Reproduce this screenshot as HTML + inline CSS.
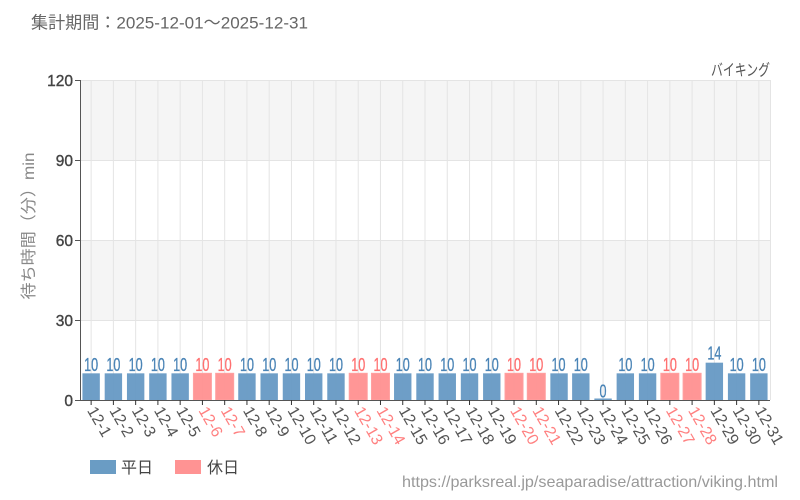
<!DOCTYPE html>
<html><head><meta charset="utf-8"><style>
html,body{margin:0;padding:0;background:#fff;}
svg{display:block;}
text{font-family:"Liberation Sans","Noto Sans CJK JP",sans-serif;}
</style></head><body>
<svg width="800" height="500" viewBox="0 0 800 500" xmlns="http://www.w3.org/2000/svg">
<rect width="800" height="500" fill="#fff"/>
<text x="31" y="28.5" font-size="17" fill="#666" textLength="277" lengthAdjust="spacingAndGlyphs">集計期間：2025-12-01～2025-12-31</text>
<text x="770" y="75.5" font-size="16" fill="#555" text-anchor="end" textLength="59" lengthAdjust="spacingAndGlyphs">バイキング</text>
<!-- bands -->
<rect x="80" y="80" width="690" height="80" fill="#f5f5f5"/>
<rect x="80" y="240" width="690" height="80" fill="#f5f5f5"/>
<!-- horizontal grid -->
<g stroke="#e4e4e4" stroke-width="1">
<line x1="80" y1="80.5" x2="770" y2="80.5"/>
<line x1="80" y1="160.5" x2="770" y2="160.5"/>
<line x1="80" y1="240.5" x2="770" y2="240.5"/>
<line x1="80" y1="320.5" x2="770" y2="320.5"/>
</g>
<!-- vertical grid -->
<g stroke="#e4e4e4" stroke-width="1">
<line x1="91.13" y1="80" x2="91.13" y2="400"/>
<line x1="113.39" y1="80" x2="113.39" y2="400"/>
<line x1="135.65" y1="80" x2="135.65" y2="400"/>
<line x1="157.90" y1="80" x2="157.90" y2="400"/>
<line x1="180.16" y1="80" x2="180.16" y2="400"/>
<line x1="202.42" y1="80" x2="202.42" y2="400"/>
<line x1="224.68" y1="80" x2="224.68" y2="400"/>
<line x1="246.94" y1="80" x2="246.94" y2="400"/>
<line x1="269.19" y1="80" x2="269.19" y2="400"/>
<line x1="291.45" y1="80" x2="291.45" y2="400"/>
<line x1="313.71" y1="80" x2="313.71" y2="400"/>
<line x1="335.97" y1="80" x2="335.97" y2="400"/>
<line x1="358.23" y1="80" x2="358.23" y2="400"/>
<line x1="380.48" y1="80" x2="380.48" y2="400"/>
<line x1="402.74" y1="80" x2="402.74" y2="400"/>
<line x1="425.00" y1="80" x2="425.00" y2="400"/>
<line x1="447.26" y1="80" x2="447.26" y2="400"/>
<line x1="469.52" y1="80" x2="469.52" y2="400"/>
<line x1="491.77" y1="80" x2="491.77" y2="400"/>
<line x1="514.03" y1="80" x2="514.03" y2="400"/>
<line x1="536.29" y1="80" x2="536.29" y2="400"/>
<line x1="558.55" y1="80" x2="558.55" y2="400"/>
<line x1="580.81" y1="80" x2="580.81" y2="400"/>
<line x1="603.06" y1="80" x2="603.06" y2="400"/>
<line x1="625.32" y1="80" x2="625.32" y2="400"/>
<line x1="647.58" y1="80" x2="647.58" y2="400"/>
<line x1="669.84" y1="80" x2="669.84" y2="400"/>
<line x1="692.10" y1="80" x2="692.10" y2="400"/>
<line x1="714.35" y1="80" x2="714.35" y2="400"/>
<line x1="736.61" y1="80" x2="736.61" y2="400"/>
<line x1="758.87" y1="80" x2="758.87" y2="400"/>
<line x1="770.5" y1="80" x2="770.5" y2="400"/>
</g>
<!-- bars -->
<g fill="#6699c4" fill-opacity="0.95">
<rect x="82.43" y="373.33" width="17.4" height="26.67"/>
<rect x="104.69" y="373.33" width="17.4" height="26.67"/>
<rect x="126.95" y="373.33" width="17.4" height="26.67"/>
<rect x="149.20" y="373.33" width="17.4" height="26.67"/>
<rect x="171.46" y="373.33" width="17.4" height="26.67"/>
<rect x="238.24" y="373.33" width="17.4" height="26.67"/>
<rect x="260.49" y="373.33" width="17.4" height="26.67"/>
<rect x="282.75" y="373.33" width="17.4" height="26.67"/>
<rect x="305.01" y="373.33" width="17.4" height="26.67"/>
<rect x="327.27" y="373.33" width="17.4" height="26.67"/>
<rect x="394.04" y="373.33" width="17.4" height="26.67"/>
<rect x="416.30" y="373.33" width="17.4" height="26.67"/>
<rect x="438.56" y="373.33" width="17.4" height="26.67"/>
<rect x="460.82" y="373.33" width="17.4" height="26.67"/>
<rect x="483.07" y="373.33" width="17.4" height="26.67"/>
<rect x="550.35" y="373.33" width="17.4" height="26.67"/>
<rect x="572.11" y="373.33" width="17.4" height="26.67"/>
<rect x="594.36" y="398.5" width="17.4" height="1.5"/>
<rect x="616.62" y="373.33" width="17.4" height="26.67"/>
<rect x="638.88" y="373.33" width="17.4" height="26.67"/>
<rect x="705.65" y="362.67" width="17.4" height="37.33"/>
<rect x="727.91" y="373.33" width="17.4" height="26.67"/>
<rect x="750.17" y="373.33" width="17.4" height="26.67"/>
</g>
<g fill="#ff9090" fill-opacity="0.95" stroke="#ffa0a0" stroke-width="1">
<rect x="193.42" y="373.3" width="18" height="26.7"/>
<rect x="215.68" y="373.3" width="18" height="26.7"/>
<rect x="349.23" y="373.3" width="18" height="26.7"/>
<rect x="371.48" y="373.3" width="18" height="26.7"/>
<rect x="505.03" y="373.3" width="18" height="26.7"/>
<rect x="527.29" y="373.3" width="18" height="26.7"/>
<rect x="660.84" y="373.3" width="18" height="26.7"/>
<rect x="683.10" y="373.3" width="18" height="26.7"/>
</g>
<!-- value labels -->
<g font-size="18.5" fill="#4a84b6" stroke="#4a84b6" stroke-width="0.3" text-anchor="middle">
<text x="91.13" y="371" textLength="14" lengthAdjust="spacingAndGlyphs">10</text>
<text x="113.39" y="371" textLength="14" lengthAdjust="spacingAndGlyphs">10</text>
<text x="135.65" y="371" textLength="14" lengthAdjust="spacingAndGlyphs">10</text>
<text x="157.90" y="371" textLength="14" lengthAdjust="spacingAndGlyphs">10</text>
<text x="180.16" y="371" textLength="14" lengthAdjust="spacingAndGlyphs">10</text>
<text x="246.94" y="371" textLength="14" lengthAdjust="spacingAndGlyphs">10</text>
<text x="269.19" y="371" textLength="14" lengthAdjust="spacingAndGlyphs">10</text>
<text x="291.45" y="371" textLength="14" lengthAdjust="spacingAndGlyphs">10</text>
<text x="313.71" y="371" textLength="14" lengthAdjust="spacingAndGlyphs">10</text>
<text x="335.97" y="371" textLength="14" lengthAdjust="spacingAndGlyphs">10</text>
<text x="402.74" y="371" textLength="14" lengthAdjust="spacingAndGlyphs">10</text>
<text x="425.00" y="371" textLength="14" lengthAdjust="spacingAndGlyphs">10</text>
<text x="447.26" y="371" textLength="14" lengthAdjust="spacingAndGlyphs">10</text>
<text x="469.52" y="371" textLength="14" lengthAdjust="spacingAndGlyphs">10</text>
<text x="491.77" y="371" textLength="14" lengthAdjust="spacingAndGlyphs">10</text>
<text x="558.55" y="371" textLength="14" lengthAdjust="spacingAndGlyphs">10</text>
<text x="580.81" y="371" textLength="14" lengthAdjust="spacingAndGlyphs">10</text>
<text x="603.06" y="397.5" textLength="7" lengthAdjust="spacingAndGlyphs">0</text>
<text x="625.32" y="371" textLength="14" lengthAdjust="spacingAndGlyphs">10</text>
<text x="647.58" y="371" textLength="14" lengthAdjust="spacingAndGlyphs">10</text>
<text x="714.35" y="359.5" textLength="14" lengthAdjust="spacingAndGlyphs">14</text>
<text x="736.61" y="371" textLength="14" lengthAdjust="spacingAndGlyphs">10</text>
<text x="758.87" y="371" textLength="14" lengthAdjust="spacingAndGlyphs">10</text>
</g>
<g font-size="18.5" fill="#ff7070" stroke="#ff7070" stroke-width="0.3" text-anchor="middle">
<text x="202.42" y="371" textLength="14" lengthAdjust="spacingAndGlyphs">10</text>
<text x="224.68" y="371" textLength="14" lengthAdjust="spacingAndGlyphs">10</text>
<text x="358.23" y="371" textLength="14" lengthAdjust="spacingAndGlyphs">10</text>
<text x="380.48" y="371" textLength="14" lengthAdjust="spacingAndGlyphs">10</text>
<text x="514.03" y="371" textLength="14" lengthAdjust="spacingAndGlyphs">10</text>
<text x="536.29" y="371" textLength="14" lengthAdjust="spacingAndGlyphs">10</text>
<text x="669.84" y="371" textLength="14" lengthAdjust="spacingAndGlyphs">10</text>
<text x="692.10" y="371" textLength="14" lengthAdjust="spacingAndGlyphs">10</text>
</g>
<!-- axes -->
<g stroke="#555" stroke-width="1">
<line x1="80.5" y1="80" x2="80.5" y2="400"/>
<line x1="80" y1="400.5" x2="770" y2="400.5"/>
<line x1="75" y1="80.5" x2="80" y2="80.5"/>
<line x1="75" y1="160.5" x2="80" y2="160.5"/>
<line x1="75" y1="240.5" x2="80" y2="240.5"/>
<line x1="75" y1="320.5" x2="80" y2="320.5"/>
<line x1="75" y1="400.5" x2="80" y2="400.5"/>
</g>
<g stroke="#333" stroke-width="1">
<line x1="91.13" y1="400" x2="91.13" y2="405"/>
<line x1="113.39" y1="400" x2="113.39" y2="405"/>
<line x1="135.65" y1="400" x2="135.65" y2="405"/>
<line x1="157.90" y1="400" x2="157.90" y2="405"/>
<line x1="180.16" y1="400" x2="180.16" y2="405"/>
<line x1="202.42" y1="400" x2="202.42" y2="405"/>
<line x1="224.68" y1="400" x2="224.68" y2="405"/>
<line x1="246.94" y1="400" x2="246.94" y2="405"/>
<line x1="269.19" y1="400" x2="269.19" y2="405"/>
<line x1="291.45" y1="400" x2="291.45" y2="405"/>
<line x1="313.71" y1="400" x2="313.71" y2="405"/>
<line x1="335.97" y1="400" x2="335.97" y2="405"/>
<line x1="358.23" y1="400" x2="358.23" y2="405"/>
<line x1="380.48" y1="400" x2="380.48" y2="405"/>
<line x1="402.74" y1="400" x2="402.74" y2="405"/>
<line x1="425.00" y1="400" x2="425.00" y2="405"/>
<line x1="447.26" y1="400" x2="447.26" y2="405"/>
<line x1="469.52" y1="400" x2="469.52" y2="405"/>
<line x1="491.77" y1="400" x2="491.77" y2="405"/>
<line x1="514.03" y1="400" x2="514.03" y2="405"/>
<line x1="536.29" y1="400" x2="536.29" y2="405"/>
<line x1="558.55" y1="400" x2="558.55" y2="405"/>
<line x1="580.81" y1="400" x2="580.81" y2="405"/>
<line x1="603.06" y1="400" x2="603.06" y2="405"/>
<line x1="625.32" y1="400" x2="625.32" y2="405"/>
<line x1="647.58" y1="400" x2="647.58" y2="405"/>
<line x1="669.84" y1="400" x2="669.84" y2="405"/>
<line x1="692.10" y1="400" x2="692.10" y2="405"/>
<line x1="714.35" y1="400" x2="714.35" y2="405"/>
<line x1="736.61" y1="400" x2="736.61" y2="405"/>
<line x1="758.87" y1="400" x2="758.87" y2="405"/>
</g>
<!-- y labels -->
<g font-size="15.5" fill="#444" stroke="#444" stroke-width="0.4" text-anchor="end">
<text x="73" y="86">120</text>
<text x="73" y="166">90</text>
<text x="73" y="246">60</text>
<text x="73" y="326">30</text>
<text x="73" y="406">0</text>
</g>
<text transform="translate(34,226) rotate(-90)" font-size="16" fill="#888" text-anchor="middle" textLength="147" lengthAdjust="spacingAndGlyphs">待ち時間（分）min</text>
<!-- x labels -->
<g font-size="16" fill="#555">
<text transform="translate(91.13,408) rotate(60)" x="0" y="5">12-1</text>
<text transform="translate(113.39,408) rotate(60)" x="0" y="5">12-2</text>
<text transform="translate(135.65,408) rotate(60)" x="0" y="5">12-3</text>
<text transform="translate(157.90,408) rotate(60)" x="0" y="5">12-4</text>
<text transform="translate(180.16,408) rotate(60)" x="0" y="5">12-5</text>
<text transform="translate(246.94,408) rotate(60)" x="0" y="5">12-8</text>
<text transform="translate(269.19,408) rotate(60)" x="0" y="5">12-9</text>
<text transform="translate(291.45,408) rotate(60)" x="0" y="5">12-10</text>
<text transform="translate(313.71,408) rotate(60)" x="0" y="5">12-11</text>
<text transform="translate(335.97,408) rotate(60)" x="0" y="5">12-12</text>
<text transform="translate(402.74,408) rotate(60)" x="0" y="5">12-15</text>
<text transform="translate(425.00,408) rotate(60)" x="0" y="5">12-16</text>
<text transform="translate(447.26,408) rotate(60)" x="0" y="5">12-17</text>
<text transform="translate(469.52,408) rotate(60)" x="0" y="5">12-18</text>
<text transform="translate(491.77,408) rotate(60)" x="0" y="5">12-19</text>
<text transform="translate(558.55,408) rotate(60)" x="0" y="5">12-22</text>
<text transform="translate(580.81,408) rotate(60)" x="0" y="5">12-23</text>
<text transform="translate(603.06,408) rotate(60)" x="0" y="5">12-24</text>
<text transform="translate(625.32,408) rotate(60)" x="0" y="5">12-25</text>
<text transform="translate(647.58,408) rotate(60)" x="0" y="5">12-26</text>
<text transform="translate(714.35,408) rotate(60)" x="0" y="5">12-29</text>
<text transform="translate(736.61,408) rotate(60)" x="0" y="5">12-30</text>
<text transform="translate(758.87,408) rotate(60)" x="0" y="5">12-31</text>
</g>
<g font-size="16" fill="#ff8080">
<text transform="translate(202.42,408) rotate(60)" x="0" y="5">12-6</text>
<text transform="translate(224.68,408) rotate(60)" x="0" y="5">12-7</text>
<text transform="translate(358.23,408) rotate(60)" x="0" y="5">12-13</text>
<text transform="translate(380.48,408) rotate(60)" x="0" y="5">12-14</text>
<text transform="translate(514.03,408) rotate(60)" x="0" y="5">12-20</text>
<text transform="translate(536.29,408) rotate(60)" x="0" y="5">12-21</text>
<text transform="translate(669.84,408) rotate(60)" x="0" y="5">12-27</text>
<text transform="translate(692.10,408) rotate(60)" x="0" y="5">12-28</text>
</g>
<!-- legend -->
<rect x="90" y="460" width="26" height="14" fill="#6a9cc4"/>
<text x="121" y="473" font-size="16" fill="#444">平日</text>
<rect x="175" y="460" width="26" height="14" fill="#ff9393"/>
<text x="207" y="473" font-size="16" fill="#444">休日</text>
<text x="778" y="487" font-size="16" fill="#999" text-anchor="end" textLength="376" lengthAdjust="spacingAndGlyphs">https://parksreal.jp/seaparadise/attraction/viking.html</text>
</svg>
</body></html>
